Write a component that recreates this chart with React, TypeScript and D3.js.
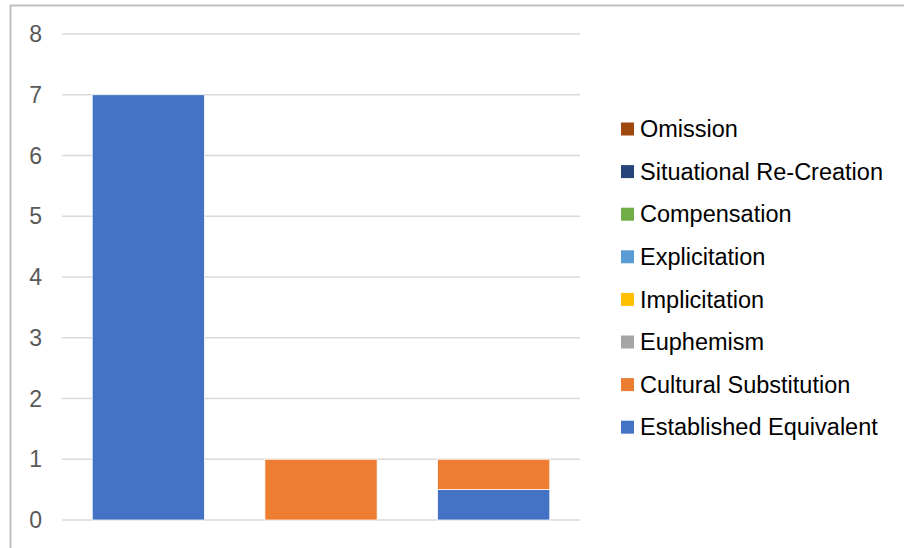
import React, { useEffect, useRef } from 'react';
import * as d3 from 'd3';

const categories = ['A', 'B', 'C'];
const seriesNames = [
  'Established Equivalent',
  'Cultural Substitution',
  'Euphemism',
  'Implicitation',
  'Explicitation',
  'Compensation',
  'Situational Re-Creation',
  'Omission',
];
const seriesColors = ['#4472C4', '#ED7D31', '#A5A5A5', '#FFC000', '#5B9BD5', '#70AD47', '#264478', '#9E480E'];
// values per series, one per category
const establishedEquivalent = [7, 0, 0.5];
const culturalSubstitution = [0, 1, 0.5];
const euphemism = [0, 0, 0];
const implicitation = [0, 0, 0];
const explicitation = [0, 0, 0];
const compensation = [0, 0, 0];
const situationalReCreation = [0, 0, 0];
const omission = [0, 0, 0];
const yTicks = [0, 1, 2, 3, 4, 5, 6, 7, 8];

const App: React.FC = () => {
  const svgRef = useRef<SVGSVGElement>(null);

  useEffect(() => {
    if (!svgRef.current) return;
    const svg = d3.select(svgRef.current);
    svg.selectAll('*').remove();

    const width = 905;
    const height = 548;
    const font = 'Arial, "Liberation Sans", sans-serif';

    // chart frame
    svg.append('path')
      .attr('d', `M10.5,${height} L10.5,5.5 L${width - 1},5.5`)
      .attr('fill', 'none')
      .attr('stroke', '#BFBFBF')
      .attr('stroke-width', 2);

    const plotLeft = 62;
    const plotRight = 580;
    const y = d3.scaleLinear().domain([0, 8]).range([520, 34]);
    const x = d3.scaleBand<string>()
      .domain(categories)
      .range([plotLeft, plotRight])
      .paddingInner(0.35)
      .paddingOuter(0.175);

    // gridlines
    svg.append('g')
      .selectAll('line')
      .data(yTicks)
      .join('line')
      .attr('x1', plotLeft)
      .attr('x2', plotRight)
      .attr('y1', (d) => y(d))
      .attr('y2', (d) => y(d))
      .attr('stroke', '#D9D9D9')
      .attr('stroke-width', 1.5);

    // tick labels
    svg.append('g')
      .selectAll('text')
      .data(yTicks)
      .join('text')
      .attr('x', 42)
      .attr('y', (d) => y(d))
      .attr('dy', '0.35em')
      .attr('text-anchor', 'end')
      .attr('fill', '#595959')
      .attr('font-family', font)
      .attr('font-size', 23)
      .text((d) => d);

    const allSeries = [
      establishedEquivalent,
      culturalSubstitution,
      euphemism,
      implicitation,
      explicitation,
      compensation,
      situationalReCreation,
      omission,
    ];
    const table = categories.map((c, i) => {
      const row: any = { cat: c };
      seriesNames.forEach((s, k) => (row[s] = allSeries[k][i]));
      return row;
    });
    const stacked = d3.stack<any>().keys(seriesNames)(table);

    svg.append('g')
      .selectAll('g')
      .data(stacked)
      .join('g')
      .attr('fill', (_, i) => seriesColors[i])
      .selectAll('rect')
      .data((d) => d.filter((p) => p[1] - p[0] > 0))
      .join('rect')
      .attr('x', (d) => x(d.data.cat)!)
      .attr('width', x.bandwidth())
      .attr('y', (d) => y(d[1]))
      .attr('height', (d) => y(d[0]) - y(d[1]))
      .attr('stroke', '#fff')
      .attr('stroke-width', 0.75);

    // legend (reverse order, top = Omission)
    const legendItems = seriesNames.map((s, i) => ({ s, c: seriesColors[i] })).reverse();
    const lg = svg.append('g').attr('transform', 'translate(621,129)');
    const row = lg.selectAll('g')
      .data(legendItems)
      .join('g')
      .attr('transform', (_, i) => `translate(0,${i * 42.6})`);
    row.append('rect')
      .attr('x', 0)
      .attr('y', -6.5)
      .attr('width', 13)
      .attr('height', 13)
      .attr('fill', (d) => d.c);
    row.append('text')
      .attr('x', 19)
      .attr('y', 0)
      .attr('dy', '0.35em')
      .attr('fill', '#000')
      .attr('font-family', font)
      .attr('font-size', 23.5)
      .text((d) => d.s);
  }, []);

  return (
    <svg
      ref={svgRef}
      width={905}
      height={548}
      style={{ position: 'absolute', left: 0, top: 0, background: '#fff' }}
    ></svg>
  );
};

export default App;
